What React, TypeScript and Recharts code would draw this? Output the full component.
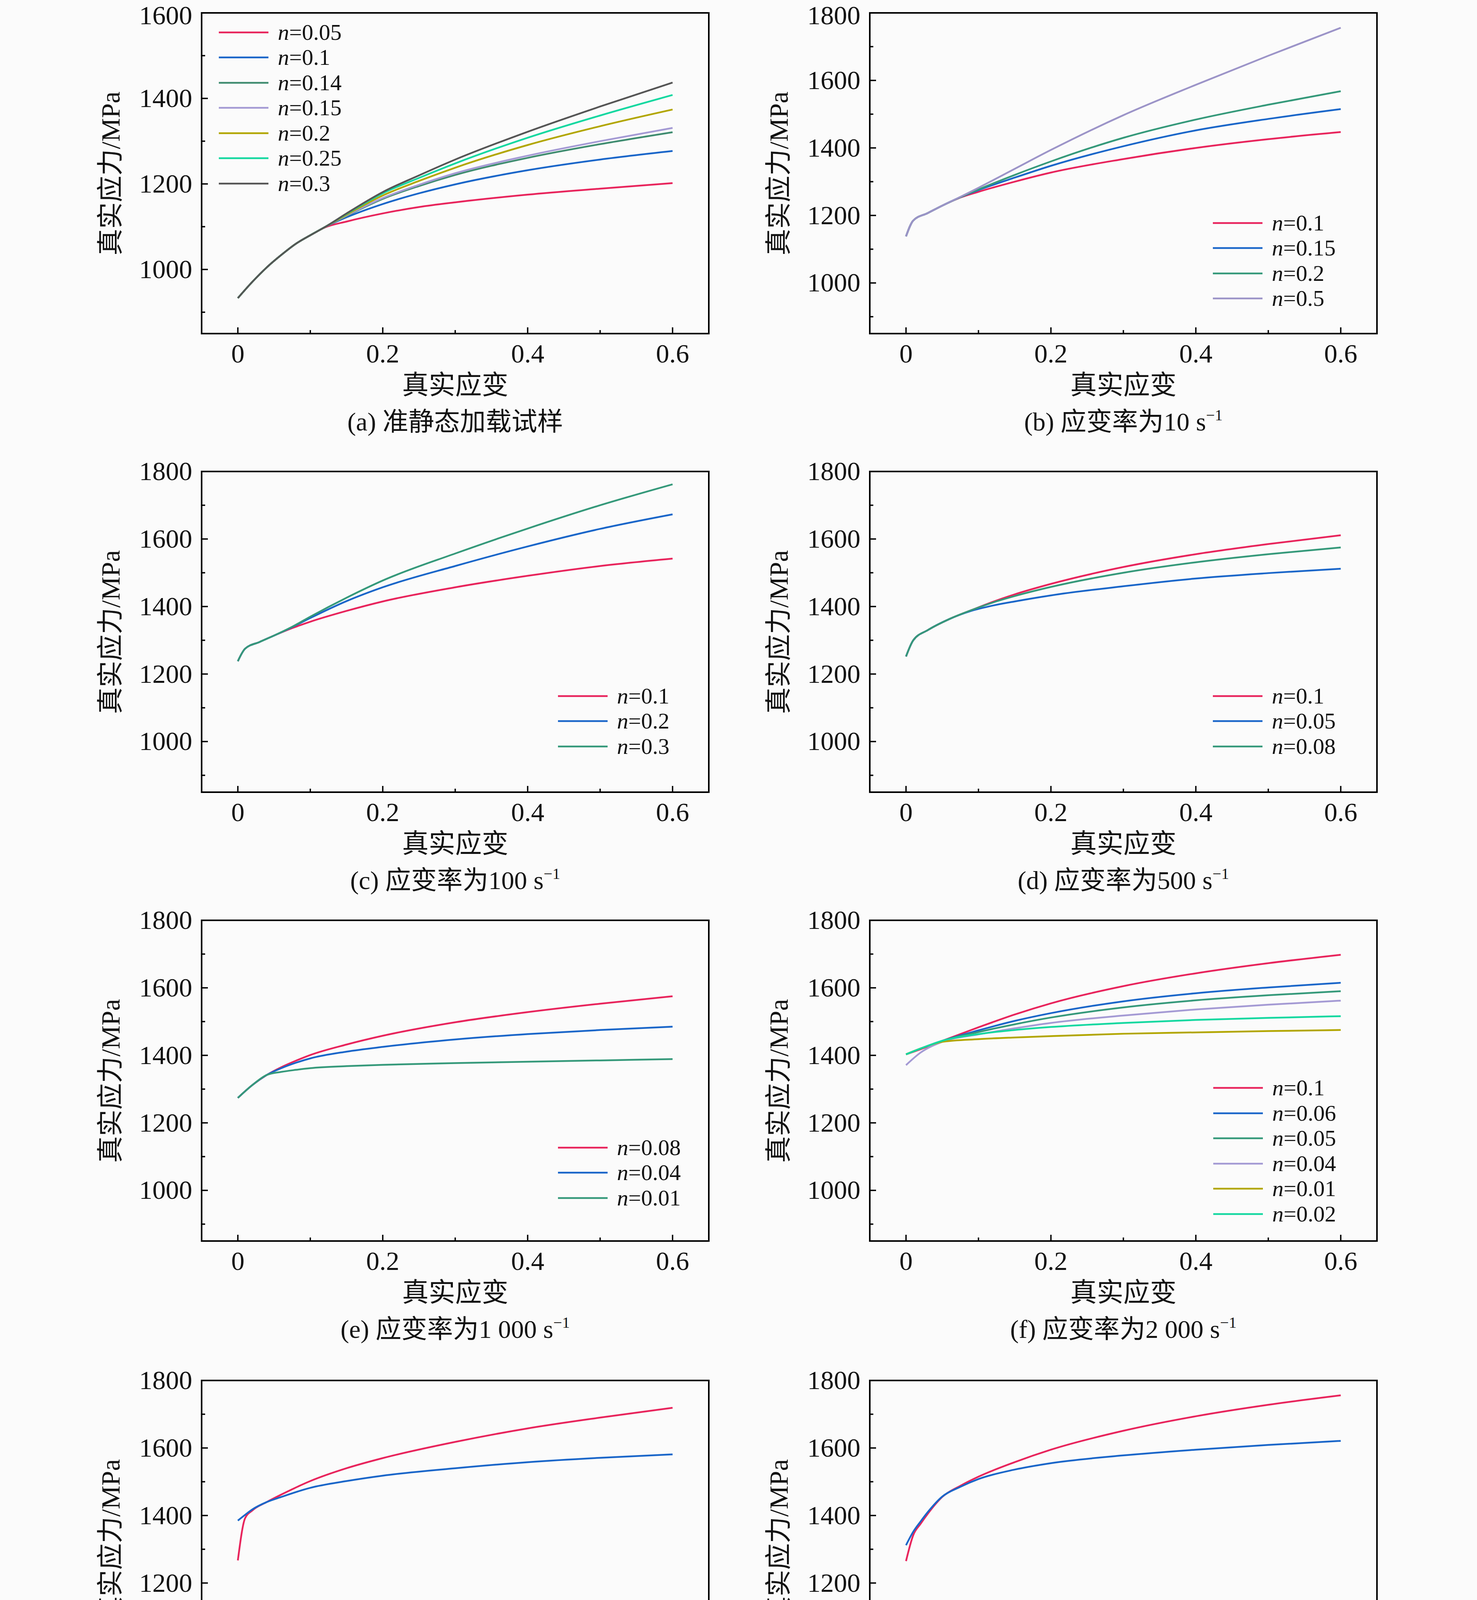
import React from "react";
import { LineChart, Line, XAxis, YAxis, Legend, ReferenceArea } from "recharts";

// colours
const RED = "#e8245c";
const BLUE = "#1a66c9";
const GREEN = "#35997a";
const TEAL = "#3f8c70";
const PURPLE = "#a49ad4";
const LAVENDER = "#9c94c8";
const OLIVE = "#b2a600";
const CYAN = "#14d8a0";
const GRAY = "#555555";

const strainTicks = [0, 0.1, 0.2, 0.3, 0.4, 0.5, 0.6];
const stressTicksA = [900, 1000, 1100, 1200, 1300, 1400, 1500, 1600];
const stressTicks = [900, 1000, 1100, 1200, 1300, 1400, 1500, 1600, 1700, 1800];

// (a) quasi-static
const strainA = [0, 0.02, 0.04, 0.06, 0.08, 0.1, 0.12, 0.15, 0.2, 0.25, 0.3, 0.4, 0.5, 0.6];
const aN005 = [933, 971, 1005, 1034, 1060, 1080, 1098, 1112, 1131, 1146, 1157, 1175, 1189, 1202];
const aN01 = [933, 971, 1005, 1034, 1060, 1080, 1099, 1122, 1153, 1178, 1199, 1232, 1257, 1277];
const aN014 = [933, 971, 1005, 1034, 1060, 1080, 1099, 1125, 1165, 1195, 1221, 1261, 1293, 1321];
const aN015 = [933, 971, 1005, 1034, 1060, 1080, 1099, 1126, 1167, 1198, 1225, 1266, 1300, 1331];
const aN02 = [933, 971, 1005, 1034, 1060, 1080, 1099, 1128, 1173, 1207, 1238, 1291, 1335, 1374];
const aN025 = [933, 971, 1005, 1034, 1060, 1080, 1099, 1130, 1178, 1214, 1248, 1308, 1360, 1408];
const aN03 = [933, 971, 1005, 1034, 1060, 1080, 1099, 1131, 1181, 1220, 1257, 1322, 1381, 1437];

// (b) 10 /s
const strainB = [0, 0.01, 0.03, 0.05, 0.075, 0.1, 0.15, 0.2, 0.3, 0.4, 0.5, 0.6];
const bN01 = [1138, 1185, 1207, 1229, 1253, 1270, 1300, 1327, 1367, 1400, 1426, 1447];
const bN015 = [1138, 1185, 1207, 1229, 1254, 1275, 1312, 1347, 1405, 1452, 1486, 1515];
const bN02 = [1138, 1185, 1207, 1229, 1254, 1277, 1320, 1360, 1430, 1484, 1528, 1568];
const bN05 = [1138, 1185, 1207, 1229, 1255, 1282, 1338, 1394, 1497, 1587, 1673, 1756];

// (c) 100 /s
const strainC = [0, 0.01, 0.03, 0.05, 0.075, 0.1, 0.15, 0.2, 0.3, 0.4, 0.5, 0.6];
const cN01 = [1238, 1275, 1295, 1314, 1336, 1355, 1387, 1415, 1457, 1491, 1520, 1542];
const cN02 = [1238, 1275, 1295, 1314, 1339, 1366, 1416, 1457, 1520, 1578, 1630, 1673];
const cN03 = [1238, 1275, 1295, 1314, 1340, 1370, 1426, 1477, 1557, 1631, 1700, 1762];

// (d) 500 /s
const strainD = [0, 0.01, 0.03, 0.06, 0.09, 0.12, 0.15, 0.2, 0.3, 0.4, 0.5, 0.6];
const dN01 = [1252, 1300, 1330, 1363, 1389, 1414, 1436, 1467, 1517, 1555, 1585, 1611];
const dN005 = [1252, 1300, 1330, 1363, 1387, 1403, 1415, 1433, 1460, 1483, 1499, 1512];
const dN008 = [1252, 1300, 1330, 1363, 1389, 1412, 1431, 1458, 1500, 1531, 1555, 1575];

// (e) 1 000 /s
const strainE = [0, 0.02, 0.04, 0.06, 0.08, 0.1, 0.15, 0.2, 0.3, 0.4, 0.5, 0.6];
const eN008 = [1274, 1312, 1342, 1365, 1384, 1401, 1432, 1458, 1498, 1528, 1553, 1575];
const eN004 = [1274, 1312, 1342, 1362, 1378, 1391, 1411, 1425, 1447, 1463, 1475, 1485];
const eN001 = [1274, 1312, 1342, 1351, 1357, 1362, 1368, 1372, 1377, 1381, 1385, 1389];

// (f) 2 000 /s
const strainF = [0, 0.02, 0.05, 0.1, 0.15, 0.2, 0.3, 0.4, 0.5, 0.6];
const fN01 = [1403, 1418, 1443, 1483, 1521, 1554, 1605, 1643, 1673, 1698];
const fN006 = [1403, 1420, 1443, 1474, 1502, 1525, 1560, 1584, 1601, 1615];
const fN005 = [1403, 1420, 1443, 1469, 1492, 1512, 1542, 1563, 1578, 1590];
const fN004 = [1371, 1408, 1440, 1462, 1480, 1496, 1518, 1536, 1550, 1562];
const fN001 = [1403, 1420, 1440, 1448, 1453, 1457, 1464, 1468, 1472, 1475];
const fN002 = [1403, 1420, 1443, 1463, 1475, 1484, 1496, 1505, 1511, 1516];

// (g) 5 000 /s
const strainG = [0, 0.01, 0.02, 0.04, 0.06, 0.1, 0.15, 0.2, 0.3, 0.4, 0.5, 0.6];
const gN01 = [1267, 1392, 1415, 1440, 1462, 1502, 1540, 1570, 1618, 1658, 1690, 1719];
const gN004 = [1385, 1402, 1418, 1440, 1455, 1482, 1502, 1518, 1540, 1558, 1571, 1581];

// (h) 10 000 /s
const strainH = [0, 0.01, 0.02, 0.03, 0.05, 0.075, 0.1, 0.15, 0.2, 0.3, 0.4, 0.5, 0.6];
const hN01 = [1265, 1342, 1375, 1405, 1455, 1488, 1515, 1558, 1595, 1651, 1694, 1728, 1756];
const hN004 = [1312, 1352, 1382, 1410, 1456, 1485, 1508, 1536, 1555, 1578, 1595, 1609, 1621];

type Series = { n: string; color: string; values: number[] };

const panels = [
  {
    tag: "(a)", caption: "准静态加载试样", left: 516, top: 33, yMax: 1600, yTicks: stressTicksA,
    strain: strainA, legend: [44, 60],
    series: [
      { n: "0.05", color: RED, values: aN005 },
      { n: "0.1", color: BLUE, values: aN01 },
      { n: "0.14", color: TEAL, values: aN014 },
      { n: "0.15", color: PURPLE, values: aN015 },
      { n: "0.2", color: OLIVE, values: aN02 },
      { n: "0.25", color: CYAN, values: aN025 },
      { n: "0.3", color: GRAY, values: aN03 },
    ],
  },
  {
    tag: "(b)", caption: "应变率为10", left: 2226, top: 33, yMax: 1800, yTicks: stressTicks,
    strain: strainB, legend: [878, 543],
    series: [
      { n: "0.1", color: RED, values: bN01 },
      { n: "0.15", color: BLUE, values: bN015 },
      { n: "0.2", color: GREEN, values: bN02 },
      { n: "0.5", color: LAVENDER, values: bN05 },
    ],
  },
  {
    tag: "(c)", caption: "应变率为100", left: 516, top: 1207, yMax: 1800, yTicks: stressTicks,
    strain: strainC, legend: [912, 578],
    series: [
      { n: "0.1", color: RED, values: cN01 },
      { n: "0.2", color: BLUE, values: cN02 },
      { n: "0.3", color: GREEN, values: cN03 },
    ],
  },
  {
    tag: "(d)", caption: "应变率为500", left: 2226, top: 1207, yMax: 1800, yTicks: stressTicks,
    strain: strainD, legend: [878, 578],
    series: [
      { n: "0.1", color: RED, values: dN01 },
      { n: "0.05", color: BLUE, values: dN005 },
      { n: "0.08", color: GREEN, values: dN008 },
    ],
  },
  {
    tag: "(e)", caption: "应变率为1 000", left: 516, top: 2356, yMax: 1800, yTicks: stressTicks,
    strain: strainE, legend: [912, 585],
    series: [
      { n: "0.08", color: RED, values: eN008 },
      { n: "0.04", color: BLUE, values: eN004 },
      { n: "0.01", color: GREEN, values: eN001 },
    ],
  },
  {
    tag: "(f)", caption: "应变率为2 000", left: 2226, top: 2356, yMax: 1800, yTicks: stressTicks,
    strain: strainF, legend: [879, 438],
    series: [
      { n: "0.1", color: RED, values: fN01 },
      { n: "0.06", color: BLUE, values: fN006 },
      { n: "0.05", color: GREEN, values: fN005 },
      { n: "0.04", color: PURPLE, values: fN004 },
      { n: "0.01", color: OLIVE, values: fN001 },
      { n: "0.02", color: CYAN, values: fN002 },
    ],
  },
  {
    tag: "(g)", caption: "应变率为5 000", left: 516, top: 3534, yMax: 1800, yTicks: stressTicks,
    strain: strainG, legend: [912, 612],
    series: [
      { n: "0.1", color: RED, values: gN01 },
      { n: "0.04", color: BLUE, values: gN004 },
    ],
  },
  {
    tag: "(h)", caption: "应变率为10 000", left: 2226, top: 3534, yMax: 1800, yTicks: stressTicks,
    strain: strainH, legend: [878, 612],
    series: [
      { n: "0.1", color: RED, values: hN01 },
      { n: "0.04", color: BLUE, values: hN004 },
    ],
  },
];

const PLOT_W = 1298;
const PLOT_H = 821;
const AXIS_W = 300;
const PAD_TOP = 40;
const PAD_RIGHT = 80;
const AXIS_H = 100;
const Y_MIN = 850;
const REF_ROW = 61; // legend row pitch in the reference
const ROW = 64.5; // a touch looser so the text boxes do not collide
const SERIF = "'Liberation Serif', 'Times New Roman', serif";
const CJK = "'Liberation Serif', 'Noto Sans CJK SC', serif";

function XTick(props: any) {
  const { x, y, payload } = props;
  const major = Math.round(payload.value * 10) % 2 === 0;
  return (
    <g>
      <line x1={x} x2={x} y1={y} y2={y - (major ? 16 : 9)} stroke="#000" strokeWidth={3.5} />
      {major && (
        <text x={x} y={y + 74} textAnchor="middle" fontSize={68} fontFamily={SERIF} fill="#111">
          {String(payload.value)}
        </text>
      )}
    </g>
  );
}

function YTick(props: any) {
  const { x, y, payload, topValue, nudgeTop } = props;
  const major = payload.value % 200 === 0;
  // keep the top label of the first row inside the page
  const dy = nudgeTop && payload.value === topValue ? 29 : 22;
  return (
    <g>
      <line x1={x} x2={x + (major ? 16 : 9)} y1={y} y2={y} stroke="#000" strokeWidth={3.5} />
      {major && (
        <text x={x - 24} y={y + dy} textAnchor="end" fontSize={68} fontFamily={SERIF} fill="#111">
          {String(payload.value)}
        </text>
      )}
    </g>
  );
}

function LegendBox({ series }: { series: Series[] }) {
  return (
    <div>
      {series.map((s) => (
        <div key={s.n} style={{ display: "flex", alignItems: "center", height: ROW }}>
          <svg width={127} height={10} style={{ display: "block" }}>
            <line x1={0} x2={127} y1={5} y2={5} stroke={s.color} strokeWidth={4.5} />
          </svg>
          <span style={{ marginLeft: 24, fontSize: 58, fontFamily: SERIF, color: "#111", lineHeight: 1 }}>
            <i>n</i>={s.n}
          </span>
        </div>
      ))}
    </div>
  );
}

function Panel({ p }: { p: (typeof panels)[number] }) {
  const rows = p.strain.map((s, i) => {
    const row: Record<string, number> = { strain: s };
    p.series.forEach((ser, k) => {
      row["s" + k] = ser.values[i];
    });
    return row;
  });
  const plotBottom = p.top + PLOT_H;
  const midX = p.left + PLOT_W / 2;
  const legendShift = ((ROW - REF_ROW) * (p.series.length - 1)) / 2;
  return (
    <>
      <div style={{ position: "absolute", left: p.left - AXIS_W, top: p.top - PAD_TOP }}>
        <LineChart
          width={AXIS_W + PLOT_W + PAD_RIGHT}
          height={PAD_TOP + PLOT_H + AXIS_H}
          data={rows}
          margin={{ top: PAD_TOP, right: PAD_RIGHT, left: 0, bottom: 0 }}
        >
          <XAxis
            dataKey="strain"
            type="number"
            domain={[-0.05, 0.65]}
            ticks={strainTicks}
            interval={0}
            height={AXIS_H}
            tickSize={0}
            tickMargin={0}
            tick={<XTick />}
            axisLine={{ stroke: "#000", strokeWidth: 4 }}
            allowDataOverflow
          />
          <YAxis
            type="number"
            domain={[Y_MIN, p.yMax]}
            ticks={p.yTicks}
            interval={0}
            width={AXIS_W}
            tickSize={0}
            tickMargin={0}
            tick={<YTick topValue={p.yMax} nudgeTop={p.top < 100} />}
            axisLine={{ stroke: "#000", strokeWidth: 4 }}
            allowDataOverflow
          />
          <ReferenceArea
            x1={-0.05}
            x2={0.65}
            y1={Y_MIN}
            y2={p.yMax}
            fill="none"
            stroke="#000"
            strokeWidth={4}
            ifOverflow="visible"
          />
          {p.series.map((ser, k) => (
            <Line
              key={ser.n}
              dataKey={"s" + k}
              name={ser.n}
              type="monotone"
              stroke={ser.color}
              strokeWidth={4.5}
              dot={false}
              isAnimationActive={false}
            />
          ))}
          <Legend
            layout="vertical"
            align="center"
            verticalAlign="middle"
            wrapperStyle={{
              left: AXIS_W + p.legend[0],
              top: PAD_TOP + p.legend[1] - ROW / 2 - legendShift,
              width: "auto",
            }}
            content={() => <LegendBox series={p.series} />}
          />
        </LineChart>
      </div>
      <div
        style={{
          position: "absolute",
          left: p.left - 233,
          top: p.top + PLOT_H / 2,
          transform: "translate(-50%, -50%) rotate(-90deg)",
          whiteSpace: "nowrap",
          fontSize: 68,
          lineHeight: 1,
          fontFamily: CJK,
          color: "#111",
        }}
      >
        真实应力/MPa
      </div>
      <div
        style={{
          position: "absolute",
          left: midX,
          top: plotBottom + 132,
          transform: "translate(-50%, -50%)",
          whiteSpace: "nowrap",
          fontSize: 68,
          lineHeight: 1,
          fontFamily: CJK,
          color: "#111",
        }}
      >
        真实应变
      </div>
      <div
        style={{
          position: "absolute",
          left: midX,
          top: plotBottom + 226,
          transform: "translate(-50%, -50%)",
          whiteSpace: "nowrap",
          fontSize: 66,
          lineHeight: 1,
          fontFamily: CJK,
          color: "#111",
        }}
      >
        {p.tag} {p.caption}
        {p.tag !== "(a)" && (
          <>
            {" s"}
            <sup style={{ fontSize: 40, verticalAlign: "top", position: "relative", top: -4 }}>−1</sup>
          </>
        )}
      </div>
    </>
  );
}

export default function App() {
  return (
    <div
      style={{
        position: "absolute",
        left: 0,
        top: 0,
        width: 3780,
        height: 4622,
        overflow: "hidden",
        background: "#fbfbfb",
      }}
    >
      {panels.map((p) => (
        <Panel key={p.tag} p={p} />
      ))}
    </div>
  );
}
